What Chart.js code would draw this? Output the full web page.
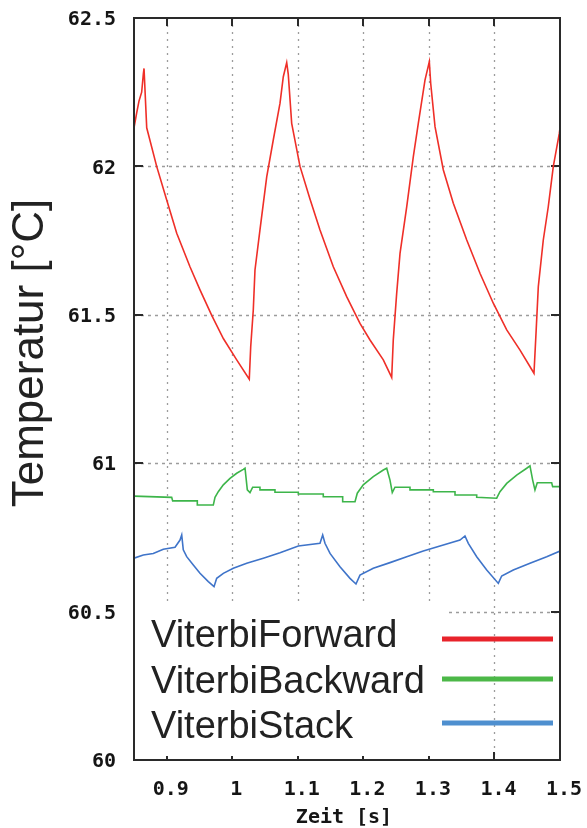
<!DOCTYPE html>
<html>
<head>
<meta charset="utf-8">
<script src="https://cdn.jsdelivr.net/npm/chart.js@4/dist/chart.umd.min.js"></script>
<style>
html,body{margin:0;padding:0;background:#fff;}
#c{display:block;}
</style>
</head>
<body>
<canvas id="c" width="587" height="828"></canvas>
<script>
// ---- data ----
const xTicks = [0.9, 1.0, 1.1, 1.2, 1.3, 1.4, 1.5];
const yTicks = [60, 60.5, 61, 61.5, 62, 62.5];
const seriesNames = ["ViterbiForward", "ViterbiBackward", "ViterbiStack"];

const tForward = [0.85,0.8541,0.8576,0.8617,0.8642,0.8653,0.8694,0.8846,0.8999,0.9152,0.9354,0.9507,0.9686,0.9863,1.0067,1.0259,1.0281,1.032,1.0346,1.0422,1.0525,1.0625,1.0728,1.0778,1.083,1.0854,1.0906,1.1033,1.1185,1.1338,1.1541,1.1745,1.1948,1.2101,1.2304,1.2432,1.2456,1.2508,1.2559,1.2661,1.2762,1.2838,1.294,1.3006,1.3027,1.3093,1.322,1.3372,1.3577,1.3779,1.3982,1.4187,1.439,1.4603,1.4634,1.4669,1.4745,1.4821,1.4898,1.499,1.5];
const vForward = [62.13,62.18,62.22,62.25,62.31,62.33,62.13,62.0,61.887,61.775,61.662,61.584,61.498,61.42,61.348,61.283,61.393,61.516,61.651,61.786,61.965,62.089,62.213,62.302,62.35,62.31,62.145,62.0,61.89,61.786,61.662,61.561,61.471,61.415,61.348,61.289,61.415,61.572,61.707,61.864,62.033,62.145,62.291,62.353,62.28,62.134,61.988,61.876,61.752,61.64,61.539,61.449,61.381,61.303,61.438,61.595,61.752,61.864,62.0,62.112,62.13];

const tBackward = [0.85,0.9075,0.909,0.9466,0.9466,0.971,0.9736,0.9786,0.9863,0.9965,1.0067,1.0168,1.0194,1.0229,1.027,1.0311,1.0422,1.0422,1.0651,1.0651,1.1007,1.1007,1.1388,1.1388,1.1684,1.1684,1.1872,1.1907,1.1998,1.2151,1.2304,1.2356,1.2406,1.2441,1.2482,1.2711,1.2711,1.3067,1.3067,1.3398,1.3398,1.3729,1.3729,1.4034,1.4084,1.4187,1.4339,1.4492,1.4542,1.4583,1.4618,1.4653,1.4873,1.4888,1.5];
const vBackward = [60.889,60.885,60.873,60.873,60.859,60.859,60.885,60.904,60.927,60.949,60.966,60.979,60.983,60.91,60.901,60.919,60.919,60.91,60.91,60.902,60.902,60.896,60.896,60.887,60.887,60.870,60.870,60.899,60.927,60.955,60.977,60.983,60.943,60.901,60.919,60.919,60.91,60.91,60.904,60.904,60.893,60.893,60.885,60.882,60.904,60.932,60.96,60.983,60.991,60.943,60.91,60.934,60.934,60.921,60.921];

const tStack = [0.85,0.8642,0.8794,0.8947,0.9126,0.9202,0.9228,0.9252,0.9304,0.9405,0.9507,0.9634,0.9721,0.9762,0.9863,1.0015,1.022,1.0473,1.0728,1.1007,1.1338,1.1379,1.1414,1.1491,1.1643,1.1796,1.1887,1.1948,1.2151,1.2406,1.2661,1.2914,1.3169,1.3474,1.355,1.3601,1.3729,1.3882,1.4059,1.411,1.4287,1.4542,1.4797,1.5];
const vStack = [60.680,60.691,60.696,60.710,60.717,60.741,60.758,60.708,60.685,60.657,60.629,60.601,60.584,60.612,60.629,60.646,60.663,60.680,60.698,60.721,60.730,60.758,60.730,60.696,60.651,60.612,60.593,60.623,60.646,60.665,60.685,60.704,60.721,60.741,60.755,60.730,60.685,60.640,60.595,60.620,60.640,60.663,60.685,60.704];

// ---- styles ----
const lineColors = ["#ef2f28", "#3db54a", "#3f74c9"];
const keyColors = ["#e8232b", "#4cb848", "#4e8fcf"];
const tickFont = {family: "'DejaVu Sans Mono', monospace", size: 20, weight: "bold"};

function pts(t, v){ return t.map((x,i)=>({x:x, y:v[i]})); }

const gnuplotDecor = {
  id: 'gnuplotDecor',
  beforeDatasetsDraw(chart){
    const {ctx, chartArea:a, scales:{x, y}} = chart;
    ctx.save();
    ctx.strokeStyle = '#9c9c9c';
    ctx.lineWidth = 1.3;
    ctx.setLineDash([3,4]);
    yTicks.forEach(v=>{
      if (v === 60 || v === 62.5) return;
      const py = Math.round(y.getPixelForValue(v)) + 0.5;
      ctx.beginPath(); ctx.moveTo(a.left, py); ctx.lineTo(a.right, py); ctx.stroke();
    });
    ctx.setLineDash([2,5]);
    xTicks.forEach(v=>{
      if (v === 1.5) return;
      const px = Math.round(x.getPixelForValue(v)) + 0.5;
      ctx.beginPath(); ctx.moveTo(px, a.top); ctx.lineTo(px, a.bottom); ctx.stroke();
    });
    ctx.setLineDash([]);
    // tick marks (inward, mirrored)
    ctx.strokeStyle = '#2a2a2a';
    ctx.lineWidth = 2;
    yTicks.forEach(v=>{
      const py = Math.round(y.getPixelForValue(v));
      ctx.beginPath(); ctx.moveTo(a.left, py); ctx.lineTo(a.left + 9, py); ctx.stroke();
      ctx.beginPath(); ctx.moveTo(a.right, py); ctx.lineTo(a.right - 9, py); ctx.stroke();
    });
    xTicks.forEach(v=>{
      const px = Math.round(x.getPixelForValue(v));
      ctx.beginPath(); ctx.moveTo(px, a.top); ctx.lineTo(px, a.top + 8); ctx.stroke();
      ctx.beginPath(); ctx.moveTo(px, a.bottom); ctx.lineTo(px, a.bottom - 8); ctx.stroke();
    });
    // opaque key area
    ctx.fillStyle = '#ffffff';
    ctx.fillRect(a.left + 1, 602, 445 - a.left, a.bottom - 4 - 602);
    ctx.restore();
  },
  afterDatasetsDraw(chart){
    const {ctx, chartArea:a} = chart;
    ctx.save();
    // frame
    ctx.strokeStyle = '#2a2a2a';
    ctx.lineWidth = 2;
    ctx.strokeRect(a.left, a.top, a.right - a.left, a.bottom - a.top);
    // key
    ctx.font = "38px 'Liberation Sans', Arial, sans-serif";
    ctx.fillStyle = '#222';
    ctx.textAlign = 'left';
    ctx.textBaseline = 'alphabetic';
    const baselines = [647, 693, 738];
    const sampleY = [639, 679, 723];
    seriesNames.forEach((n,i)=>{
      ctx.fillText(n, 151, baselines[i]);
      ctx.strokeStyle = keyColors[i];
      ctx.lineWidth = 5;
      ctx.beginPath(); ctx.moveTo(442, sampleY[i]); ctx.lineTo(553, sampleY[i]); ctx.stroke();
    });
    // y title
    ctx.save();
    ctx.translate(43, 353);
    ctx.rotate(-Math.PI/2);
    ctx.font = "44px 'Liberation Sans', Arial, sans-serif";
    ctx.fillStyle = '#222';
    ctx.textAlign = 'center';
    ctx.textBaseline = 'alphabetic';
    ctx.fillText('Temperatur [°C]', 0, 0);
    ctx.restore();
    // x title
    ctx.font = "bold 20px 'DejaVu Sans Mono', monospace";
    ctx.fillStyle = '#151515';
    ctx.textAlign = 'center';
    ctx.textBaseline = 'middle';
    ctx.fillText('Zeit [s]', 344, 818);
    ctx.restore();
  }
};

new Chart(document.getElementById('c'), {
  type: 'line',
  data: {
    datasets: [
      {label: seriesNames[0], data: pts(tForward, vForward), borderColor: lineColors[0], borderWidth: 1.6, pointRadius: 0, tension: 0, fill: false},
      {label: seriesNames[1], data: pts(tBackward, vBackward), borderColor: lineColors[1], borderWidth: 1.6, pointRadius: 0, tension: 0, fill: false},
      {label: seriesNames[2], data: pts(tStack, vStack), borderColor: lineColors[2], borderWidth: 1.6, pointRadius: 0, tension: 0, fill: false}
    ]
  },
  options: {
    responsive: false,
    animation: false,
    events: [],
    layout: {padding: {top: 18, right: 27, left: 0, bottom: 0}},
    plugins: {legend: {display: false}, tooltip: {enabled: false}},
    scales: {
      x: {
        type: 'linear', min: 0.85, max: 1.5,
        grid: {display: false}, border: {display: false},
        afterBuildTicks: s => { s.ticks = xTicks.map(v=>({value: v})); },
        afterFit: s => { s.height = 68; s.paddingLeft = 0; s.paddingRight = 0; },
        ticks: {font: tickFont, color: '#151515', padding: 10, labelOffset: 4, maxRotation: 0, autoSkip: false,
          callback: v => String(Math.round(v*10)/10)}
      },
      y: {
        type: 'linear', min: 60, max: 62.5,
        grid: {display: false}, border: {display: false},
        afterBuildTicks: s => { s.ticks = yTicks.map(v=>({value: v})); },
        afterFit: s => { s.width = 134; s.paddingTop = 0; s.paddingBottom = 0; },
        ticks: {font: tickFont, color: '#151515', padding: 10, labelOffset: 2, autoSkip: false,
          callback: v => String(Math.round(v*10)/10)}
      }
    }
  },
  plugins: [gnuplotDecor]
});
</script>
</body>
</html>
